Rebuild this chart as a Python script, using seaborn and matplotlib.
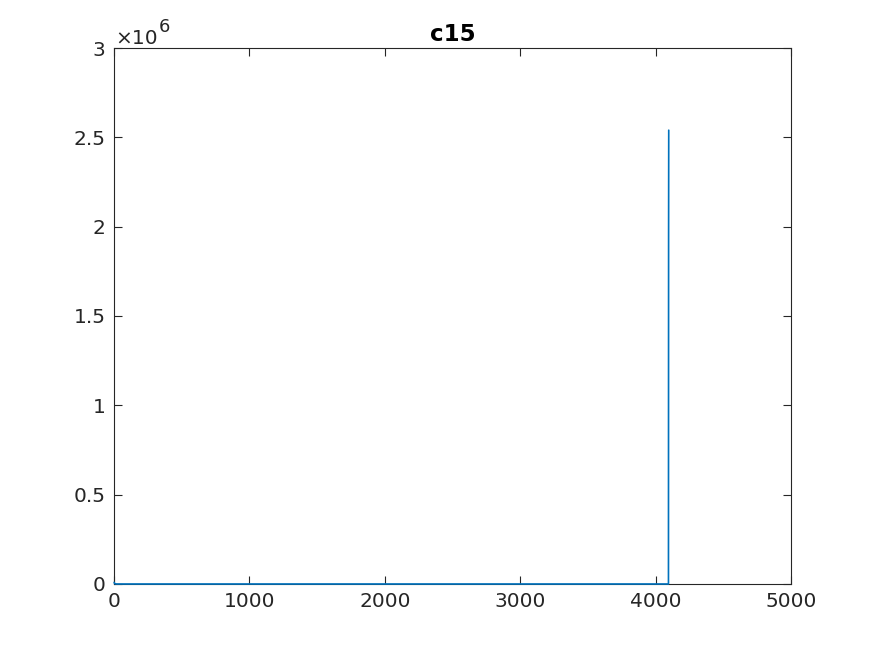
import numpy as np
import pandas as pd
import seaborn as sns
import matplotlib
matplotlib.use("Agg")
import matplotlib.pyplot as plt
from matplotlib.ticker import FuncFormatter

# Sparse readings of the c15 trace (index, value); the trace sits on zero between them
sample_index = [1, 3, 8, 20, 4095, 4096, 4097]
sample_value = [9000, 4000, 1000, 0, 0, 1.95e6, 2.54e6]

x_ticks = [0, 1000, 2000, 3000, 4000, 5000]
y_ticks = [0, 0.5e6, 1e6, 1.5e6, 2e6, 2.5e6, 3e6]
title = "c15"

sns.set_theme(style="white")
plt.rcParams['font.family'] = ['DejaVu Sans']
axis_col = "#262626"

df = pd.DataFrame({"n": sample_index, "v": sample_value})

fig = plt.figure(figsize=(8.75, 6.56), dpi=100)
ax = fig.add_axes([0.1303, 0.1098, 0.904 - 0.1303, 0.9268 - 0.1098])

sns.lineplot(data=df, x="n", y="v", ax=ax, color="#0072BD", linewidth=1.2,
             estimator=None, sort=False, zorder=3)
# let the zero stretch show over the bottom axis, as in the source plot
for line in ax.get_lines():
    line.set_clip_on(False)

ax.set_xlim(0, 5000)
ax.set_ylim(0, 3e6)
ax.set_xticks(x_ticks)
ax.set_yticks(y_ticks)
ax.yaxis.set_major_formatter(FuncFormatter(lambda v, p: f"{v / 1e6:g}"))
ax.set_xlabel("")
ax.set_ylabel("")
ax.set_title(title, fontsize=16.5, fontweight="bold", color="black", pad=5)

for s in ax.spines.values():
    s.set_visible(True)
    s.set_color(axis_col)
    s.set_linewidth(0.8)
ax.tick_params(direction="in", length=6, width=0.8, colors=axis_col,
               labelsize=14.5, top=True, right=True, bottom=True, left=True,
               pad=6)

# exponent label, as MATLAB draws it
fig.text(115 / 875, 1 - 44 / 656, "\u00d710", fontsize=14.5, color=axis_col,
         ha="left", va="baseline")
fig.text(159 / 875, 1 - 32 / 656, "6", fontsize=13, color=axis_col,
         ha="left", va="baseline")

fig.savefig("out.png", dpi=100)
